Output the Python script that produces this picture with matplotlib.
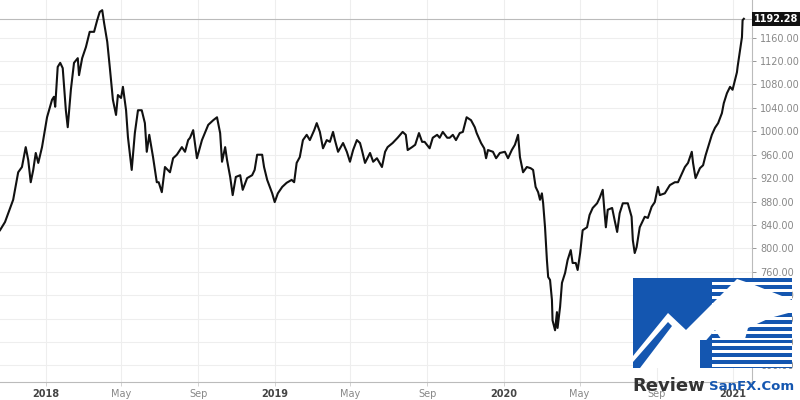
import matplotlib
matplotlib.use("Agg")
import matplotlib.pyplot as plt
import matplotlib.patches as patches
import matplotlib.transforms as transforms
import pandas as pd

# Serie de precios (dias desde la fecha inicial, cierre)
fecha_inicio = "2017-10-20"
dias = [0, 8, 21, 29, 35, 41, 45, 49, 53, 57, 61, 67, 75, 83, 86, 88, 92, 96, 100, 105,
        108, 113, 118, 124, 126, 131, 137, 143, 150, 155, 159, 163, 166, 171, 175, 180, 185, 188, 193, 196,
        201, 204, 210, 215, 220, 226, 231, 234, 238, 244, 250, 253, 258, 263, 271, 276, 282, 290, 295, 300,
        303, 308, 314, 322, 332, 340, 346, 351, 354, 359, 362, 367, 371, 376, 383, 387, 394, 402, 406, 410,
        418, 421, 426, 434, 438, 443, 450, 457, 465, 469, 473, 478, 483, 489, 494, 501, 505, 510, 515, 521,
        526, 531, 534, 539, 547, 553, 558, 563, 569, 574, 577, 582, 590, 595, 601, 609, 614, 618, 626, 634,
        642, 647, 650, 657, 662, 668, 673, 677, 685, 690, 697, 701, 706, 713, 717, 722, 727, 733, 738, 744,
        751, 757, 760, 767, 772, 775, 778, 786, 791, 797, 805, 810, 816, 821, 826, 829, 834, 840, 846, 850,
        854, 858, 861, 864, 866, 869, 872, 874, 877, 880, 881, 885, 888, 889, 893, 896, 901, 905, 910, 913,
        918, 921, 925, 929, 936, 940, 945, 952, 956, 961, 964, 966, 969, 976, 980, 984, 988, 993, 1001, 1007,
        1009, 1012, 1015, 1020, 1028, 1033, 1039, 1044, 1049, 1052, 1060, 1068, 1076, 1081, 1092, 1097, 1103, 1105, 1109, 1116,
        1121, 1125, 1129, 1135, 1140, 1145, 1151, 1154, 1159, 1164, 1168, 1172, 1175, 1176, 1180, 1183, 1184, 1186]
cierre = [831, 845, 883, 930, 939, 973, 951, 913, 934, 963, 946, 973, 1024, 1054, 1059, 1042, 1110, 1117, 1108, 1036,
          1007, 1071, 1117, 1125, 1096, 1125, 1144, 1170, 1170, 1190, 1204, 1207, 1185, 1153, 1110, 1054, 1028, 1062, 1057, 1076,
          1036, 990, 934, 997, 1036, 1036, 1014, 965, 994, 956, 913, 913, 896, 939, 930, 954, 960, 973, 965, 985,
          989, 1002, 954, 985, 1011, 1019, 1024, 997, 948, 973, 951, 922, 891, 922, 925, 900, 920, 925, 934, 960,
          960, 939, 917, 894, 879, 894, 905, 912, 917, 913, 946, 956, 985, 994, 985, 1002, 1014, 999, 971, 985,
          982, 999, 985, 965, 980, 965, 948, 968, 985, 980, 968, 946, 963, 948, 954, 939, 965, 973, 980, 989,
          999, 994, 968, 973, 977, 997, 982, 982, 971, 989, 994, 989, 999, 989, 989, 994, 985, 997, 999, 1024,
          1019, 1007, 997, 980, 971, 954, 968, 965, 954, 963, 965, 954, 968, 977, 994, 956, 930, 939, 937, 934,
          905, 896, 883, 894, 877, 836, 780, 751, 746, 712, 677, 660, 691, 664, 700, 741, 758, 780, 797, 775,
          775, 763, 792, 831, 836, 857, 869, 877, 886, 900, 860, 836, 866, 869, 848, 828, 860, 877, 877, 854,
          814, 792, 802, 836, 854, 852, 871, 879, 905, 891, 894, 908, 913, 913, 939, 946, 965, 946, 920, 937,
          942, 959, 973, 994, 1006, 1014, 1031, 1048, 1065, 1076, 1071, 1088, 1101, 1110, 1139, 1161, 1190, 1192.28]
ultimo_precio = 1192.28
niveles_y = list(range(600, 1161, 40))
fechas_ticks = ["2018-01-01", "2018-05-01", "2018-09-01", "2019-01-01", "2019-05-01", "2019-09-01",
                "2020-01-01", "2020-05-01", "2020-09-01", "2021-01-01"]

fechas = pd.Timestamp(fecha_inicio) + pd.to_timedelta(dias, unit="D")

fig = plt.figure(figsize=(8, 4), dpi=100)
ax = fig.add_axes([0, 0.045, 0.94, 0.955])

ax.plot(fechas, cierre, color="#111111", linewidth=1.5, zorder=3)
ax.axhline(ultimo_precio, color="#bbbbbb", linewidth=0.8, zorder=2)

ax.set_xlim(pd.Timestamp(fecha_inicio), pd.Timestamp(fecha_inicio) + pd.Timedelta(days=1199))
ax.set_ylim(571.6, 1224.4)

# Ejes y rejilla
ax.yaxis.tick_right()
ax.set_yticks(niveles_y)
ax.set_yticklabels([f"{v:.2f}" for v in niveles_y])
xt = pd.to_datetime(fechas_ticks)
ax.set_xticks(xt)
ax.set_xticklabels([str(d.year) if d.month == 1 else d.strftime("%b") for d in xt])
for lab, d in zip(ax.get_xticklabels(), xt):
    if d.month == 1:
        lab.set_color("#444444")
        lab.set_fontweight("bold")
    else:
        lab.set_color("#888888")

ax.tick_params(axis="y", labelsize=7, colors="#888888", length=3, pad=3, width=0.6)
ax.tick_params(axis="x", labelsize=7, length=3, pad=2, width=0.6, color="#cccccc")
ax.grid(True, color="#eeeeee", linewidth=0.8)
for s in ["top", "left"]:
    ax.spines[s].set_visible(False)
for s in ["right", "bottom"]:
    ax.spines[s].set_color("#bbbbbb")
    ax.spines[s].set_linewidth(0.8)

# Etiqueta del ultimo precio
trans = transforms.blended_transform_factory(ax.transAxes, ax.transData)
ax.text(1.002, ultimo_precio, f"{ultimo_precio:.2f}", transform=trans, ha="left", va="center",
        fontsize=7, color="white", fontweight="bold", clip_on=False, zorder=5,
        bbox=dict(boxstyle="square,pad=0.2", facecolor="#111111", edgecolor="none"))

# Logo (marca de agua) en coordenadas de pixel
lg = fig.add_axes([0, 0, 1, 1], zorder=10)
lg.set_xlim(0, 800)
lg.set_ylim(400, 0)
lg.axis("off")
azul = "#1456b0"
lg.add_patch(patches.Rectangle((633, 278), 159, 90, facecolor=azul, edgecolor="none"))
for y0 in range(282, 366, 7):
    lg.add_patch(patches.Rectangle((712, y0), 80, 2.5, facecolor="white", edgecolor="none"))
lg.add_patch(patches.Polygon([(633, 368), (633, 356), (668, 313), (686, 330), (737, 279),
                              (752, 284), (792, 300), (792, 312), (770, 318), (748, 328),
                              (742, 350), (730, 352), (715, 330), (702, 345), (700, 368)],
                             closed=True, facecolor="white", edgecolor="none"))
lg.add_patch(patches.Polygon([(633, 368), (633, 362), (668, 322), (672, 326), (640, 368)],
                             closed=True, facecolor=azul, edgecolor="none"))
lg.add_patch(patches.Rectangle((700, 340), 92, 28, facecolor=azul, edgecolor="none"))
for y0 in range(343, 366, 7):
    lg.add_patch(patches.Rectangle((712, y0), 80, 2.5, facecolor="white", edgecolor="none"))
lg.text(632, 386, "Review", fontsize=13, fontweight="bold", color="#333333",
        ha="left", va="center")
lg.text(794, 386, "SanFX.Com", fontsize=9.5, fontweight="bold", color=azul,
        ha="right", va="center")

fig.savefig("out.png", dpi=100)
